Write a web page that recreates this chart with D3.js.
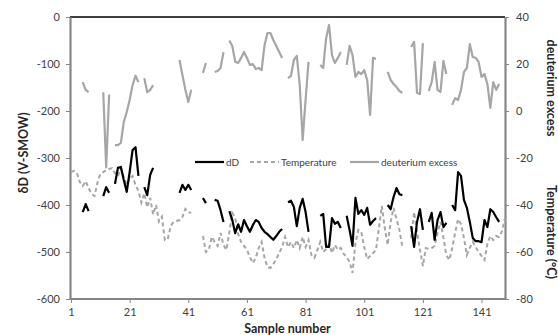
<!DOCTYPE html>
<html>
<head>
<meta charset="utf-8">
<script src="https://cdn.jsdelivr.net/npm/d3@7"></script>
<style>
  body { margin: 0; background: #fff; }
  svg text { font-family: Lato, "Open Sans", sans-serif; }
</style>
</head>
<body>
<svg id="chart" width="558" height="335"></svg>
<script>
// sample numbers 1..149, null = missing value
const sampleCount = 149;

const dD = [
  null, null, null, null, -415, -398, -413, null, null, null,
  null, -381, -362, -374, null, -355, -321, -319, -347, -372,
  -330, -283, -277, -338, null, -362, -379, -336, -321, null,
  null, null, null, null, null, null, null, -374, -357, -368,
  -357, -368, null, null, null, -385, -396, null, null, -389,
  -391, -411, -436, null, -413, -432, -460, -441, -457, -432,
  -445, -457, -443, -432, -436, -449, -457, -462, -468, -474,
  -466, -457, -451, null, -394, -391, -404, -445, -406, -387,
  -415, -457, null, null, null, -423, -419, -489, -489, -428,
  -440, -436, -449, null, -423, -453, -487, -385, -419, -411,
  -421, -406, -442, -434, -428, null, null, null, -400, -409,
  -383, -364, -377, -379, null, null, -445, -489, -436, -409,
  -453, null, -436, -417, -474, -432, -415, -447, -438, null,
  -400, -411, -330, -338, -389, -406, -436, -470, -477, -477,
  -479, -432, -447, -409, -415, -426, -436, null, null
];

const temperature = [
  -26, -25.5, -26.4, -30.2, -31.9, -29.8, -32.8, -35.3, -36.2, -30.6,
  -26.8, -26, -25.1, -24.7, -24.3, -26.4, -27.7, -24.3, -28.1, -31.5,
  -28.5, -27.7, -31.5, -34, -39, -35, -41, -37, -44, -40,
  -47, -45, -54.9, -54.5, -48.9, -47.2, -46.8, -46.4, -45.1, -41.7,
  -43.2, -43.2, null, null, null, -53.2, -60, -59.1, -53.6, -55.7,
  -57.4, -51.9, -57, -59.1, -51.5, -43.4, -45.5, -52.3, -55.7, -57.4,
  -59.1, -62.1, -64.7, -62.5, -58.3, -55.7, -62.5, -66.4, -66.8, -65.1,
  -63, -60.4, -57.9, -53.6, -57.9, -55.7, -58.3, -54.9, -58.3, -53.6,
  -57.9, -54.9, -61.3, -62.5, -59.1, -55.7, -60, -58.7, -56.6, -60.4,
  -57, -59.1, -58.3, -60.8, -62.1, -64.2, -68.9, -56.2, -50.6, -51.5,
  -57.9, -63, -61.7, -60.4, -59.1, -49.8, -40.4, -49.8, -57, -47.2,
  -41.3, -46, -50.6, -57.9, null, null, -54, -43, -51.5, -59.1,
  -66, -58.3, -58.7, -58.3, -57.4, -51.9, -47.2, -54, -61.3, -63.4,
  -58.3, -51.9, -46, -48.1, -54, -61.3, -58.3, -55.7, -57.9, -60,
  -61.7, -63.4, -56.6, -53.2, -54.9, -53.2, -53.6, -51.1, -45.5
];

const deuteriumExcess = [
  null, null, null, null, 12.3, 9, 8, null, null, null,
  null, 8, -24, 7, null, -14.5, -14.5, -13.6, -4.7, -0.4,
  4.7, 11, 15, 12.3, null, 14, 8, 9, 11, null,
  null, null, null, null, null, null, null, 21.7, 15.3, 9,
  3.8, 9, null, null, null, 16.2, 20.4, null, null, 16.6,
  17, 18.3, 25, null, 30, 27.7, 21, 20.4, 22.6, 25.1,
  22.6, 19.6, 20, 17.9, 18.3, 17.4, 28, 33.2, 33.2, 30.2,
  27.7, 25.1, 22.6, null, 14, 14.9, 21.7, 23.4, 11, -12.3,
  4.7, 20.9, null, null, null, 19.6, 18.3, 31, 36.6, 23.8,
  20.4, 22.6, 25.1, null, 19.6, 27.7, 23.8, 14.5, 16.6, 15.7,
  17.4, 13.2, -1.7, 22.6, 22.1, null, null, null, 16.6, 13.2,
  11.5, 10.2, 8.5, 7.7, null, null, 27.2, 29.4, 7.7, 7.2,
  28.9, null, 8.5, 12.3, 20.9, 9, 8.1, 21.3, 15.7, null,
  2.6, 5.5, 4.7, 9, 16.6, 18.3, 28.5, 23, 22.6, 20.9,
  14.5, 15.7, 11.5, 1.3, 12.3, 9, 11.5, null, null
];

const leftTicks = [-600, -500, -400, -300, -200, -100, 0];
const rightTicks = [-80, -60, -40, -20, 0, 20, 40];
const xTicks = [1, 21, 41, 61, 81, 101, 121, 141];

const legendItems = [
  { name: "dD", color: "#000", dash: null },
  { name: "Temperature", color: "#a6a6a6", dash: "4,3" },
  { name: "deuterium excess", color: "#a6a6a6", dash: null }
];

const svg = d3.select("#chart");
const plotLeft = 70, plotRight = 505, plotTop = 17, plotBottom = 299;
const axisColor = "#868686";
const textColor = "#404040";

const x = d3.scaleLinear().domain([1, sampleCount]).range([plotLeft + 1, plotRight]);
const yLeft = d3.scaleLinear().domain([-600, 0]).range([plotBottom, plotTop]);
const yRight = d3.scaleLinear().domain([-80, 40]).range([plotBottom, plotTop]);

// top border
svg.append("line")
  .attr("x1", plotLeft).attr("x2", plotRight)
  .attr("y1", plotTop).attr("y2", plotTop)
  .attr("stroke", "#000").attr("stroke-width", 1.5);

function styleAxis(g) {
  g.select(".domain").attr("stroke", axisColor).attr("stroke-width", 2.2);
  g.selectAll(".tick line").attr("stroke", axisColor).attr("stroke-width", 1);
  g.selectAll(".tick text").attr("fill", textColor).style("font-size", "11px");
}

svg.append("g")
  .attr("transform", `translate(${plotLeft},0)`)
  .call(d3.axisLeft(yLeft).tickValues(leftTicks).tickSize(4).tickSizeOuter(0)
    .tickPadding(6).tickFormat((d) => String(d)))
  .call(styleAxis);

svg.append("g")
  .attr("transform", `translate(${plotRight},0)`)
  .call(d3.axisRight(yRight).tickValues(rightTicks).tickSize(4).tickSizeOuter(0)
    .tickPadding(7).tickFormat((d) => String(d)))
  .call(styleAxis);

const xAxis = svg.append("g")
  .attr("transform", `translate(0,${plotBottom})`)
  .call(d3.axisBottom(x).tickValues(xTicks).tickSize(4).tickSizeOuter(0)
    .tickPadding(5).tickFormat((d) => String(d)))
  .call(styleAxis);
xAxis.select(".domain").attr("d", `M${plotLeft},0H${plotRight}`);

// series
const pts = (arr) => arr.map((v, i) => ({ s: i + 1, v: v }));

const lineLeft = d3.line()
  .defined((d) => d.v != null)
  .x((d) => x(d.s)).y((d) => yLeft(d.v));
const lineRight = d3.line()
  .defined((d) => d.v != null)
  .x((d) => x(d.s)).y((d) => yRight(d.v));

svg.append("path")
  .datum(pts(deuteriumExcess))
  .attr("d", lineRight)
  .attr("fill", "none")
  .attr("stroke", "#a6a6a6")
  .attr("stroke-width", 2.2)
  .attr("stroke-linejoin", "round");

svg.append("path")
  .datum(pts(temperature))
  .attr("d", lineRight)
  .attr("fill", "none")
  .attr("stroke", "#a6a6a6")
  .attr("stroke-width", 2)
  .attr("stroke-dasharray", "4,3");

svg.append("path")
  .datum(pts(dD))
  .attr("d", lineLeft)
  .attr("fill", "none")
  .attr("stroke", "#000")
  .attr("stroke-width", 2.2)
  .attr("stroke-linejoin", "round");

// legend
const legendX = [195, 250, 350];
const legend = svg.append("g").attr("transform", "translate(0,162)");
legendItems.forEach((item, i) => {
  legend.append("line")
    .attr("x1", legendX[i]).attr("x2", legendX[i] + 29)
    .attr("y1", 0).attr("y2", 0)
    .attr("stroke", item.color)
    .attr("stroke-width", 2.2)
    .attr("stroke-dasharray", item.dash);
  legend.append("text")
    .attr("x", legendX[i] + 31).attr("y", 0)
    .attr("dominant-baseline", "central")
    .attr("fill", textColor)
    .style("font-size", "10px")
    .text(item.name);
});

// axis titles
svg.append("text")
  .attr("transform", "translate(23,153) rotate(-90)")
  .attr("text-anchor", "middle")
  .attr("dominant-baseline", "central")
  .attr("fill", "#262626")
  .style("font-size", "12.5px").style("font-weight", "bold")
  .text("δD (V-SMOW)");

svg.append("text")
  .attr("transform", "translate(551,88) rotate(90)")
  .attr("text-anchor", "middle")
  .attr("dominant-baseline", "central")
  .attr("fill", "#262626")
  .style("font-size", "12.5px").style("font-weight", "bold")
  .text("deuterium excess");

svg.append("text")
  .attr("transform", "translate(551,232) rotate(90)")
  .attr("text-anchor", "middle")
  .attr("dominant-baseline", "central")
  .attr("fill", "#262626")
  .style("font-size", "12.5px").style("font-weight", "bold")
  .text("Temperature (°C)");

svg.append("text")
  .attr("x", (plotLeft + plotRight) / 2).attr("y", 328)
  .attr("text-anchor", "middle")
  .attr("dominant-baseline", "central")
  .attr("fill", "#262626")
  .style("font-size", "12.5px").style("font-weight", "bold")
  .text("Sample number");
</script>
</body>
</html>
